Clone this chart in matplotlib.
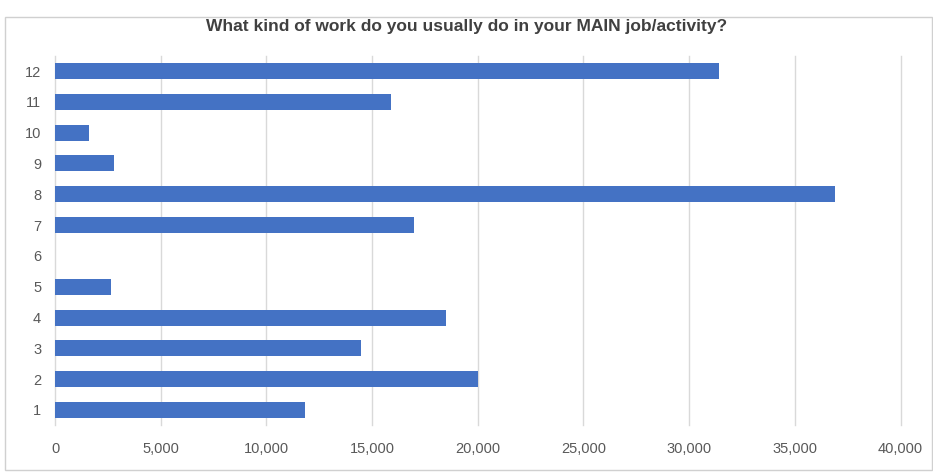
import matplotlib
matplotlib.use("Agg")
import matplotlib.pyplot as plt
from matplotlib.patches import Rectangle
from matplotlib.ticker import FuncFormatter

categories = ["1", "2", "3", "4", "5", "6", "7", "8", "9", "10", "11", "12"]
values = [11850, 20000, 14500, 18500, 2650, 0, 17000, 36900, 2800, 1600, 15900, 31400]
title = "What kind of work do you usually do in your MAIN job/activity?"

plt.rcParams['font.family'] = ['Liberation Sans Narrow', 'Liberation Sans', 'DejaVu Sans']

fig = plt.figure(figsize=(9.33, 4.73), dpi=100)
# chart border
fig.patches.append(Rectangle((5/933, 1-470/473), 927/933, 453/473, transform=fig.transFigure,
                             fill=False, edgecolor='#D0D0D0', linewidth=1.0))
ax = fig.add_axes([55/933, 1-425.4/473, 845.5/933, 369.8/473])

y = list(range(1, len(categories) + 1))
ax.barh(y, values, height=0.52, color='#4472C4', zorder=3)
ax.set_xlim(0, 40000)
ax.set_ylim(0.5, 12.5)
ax.set_yticks(y)
ax.set_yticklabels(categories)
ax.set_xticks(range(0, 40001, 5000))
ax.xaxis.set_major_formatter(FuncFormatter(lambda v, p: f"{int(v):,}"))
ax.grid(axis='x', color='#D9D9D9', linewidth=1.0, zorder=0)
for gl in ax.get_xgridlines():
    gl.set_clip_on(False)
for s in ax.spines.values():
    s.set_visible(False)
ax.tick_params(axis='both', length=0, colors='#595959', labelsize=10.5)
ax.tick_params(axis='x', pad=12)
ax.tick_params(axis='y', pad=10)
fig.text(0.5, 1-27/473, title, ha='center', va='center', fontsize=12.5,
         fontweight='bold', color='#404040')
fig.savefig("out.png", dpi=100)
